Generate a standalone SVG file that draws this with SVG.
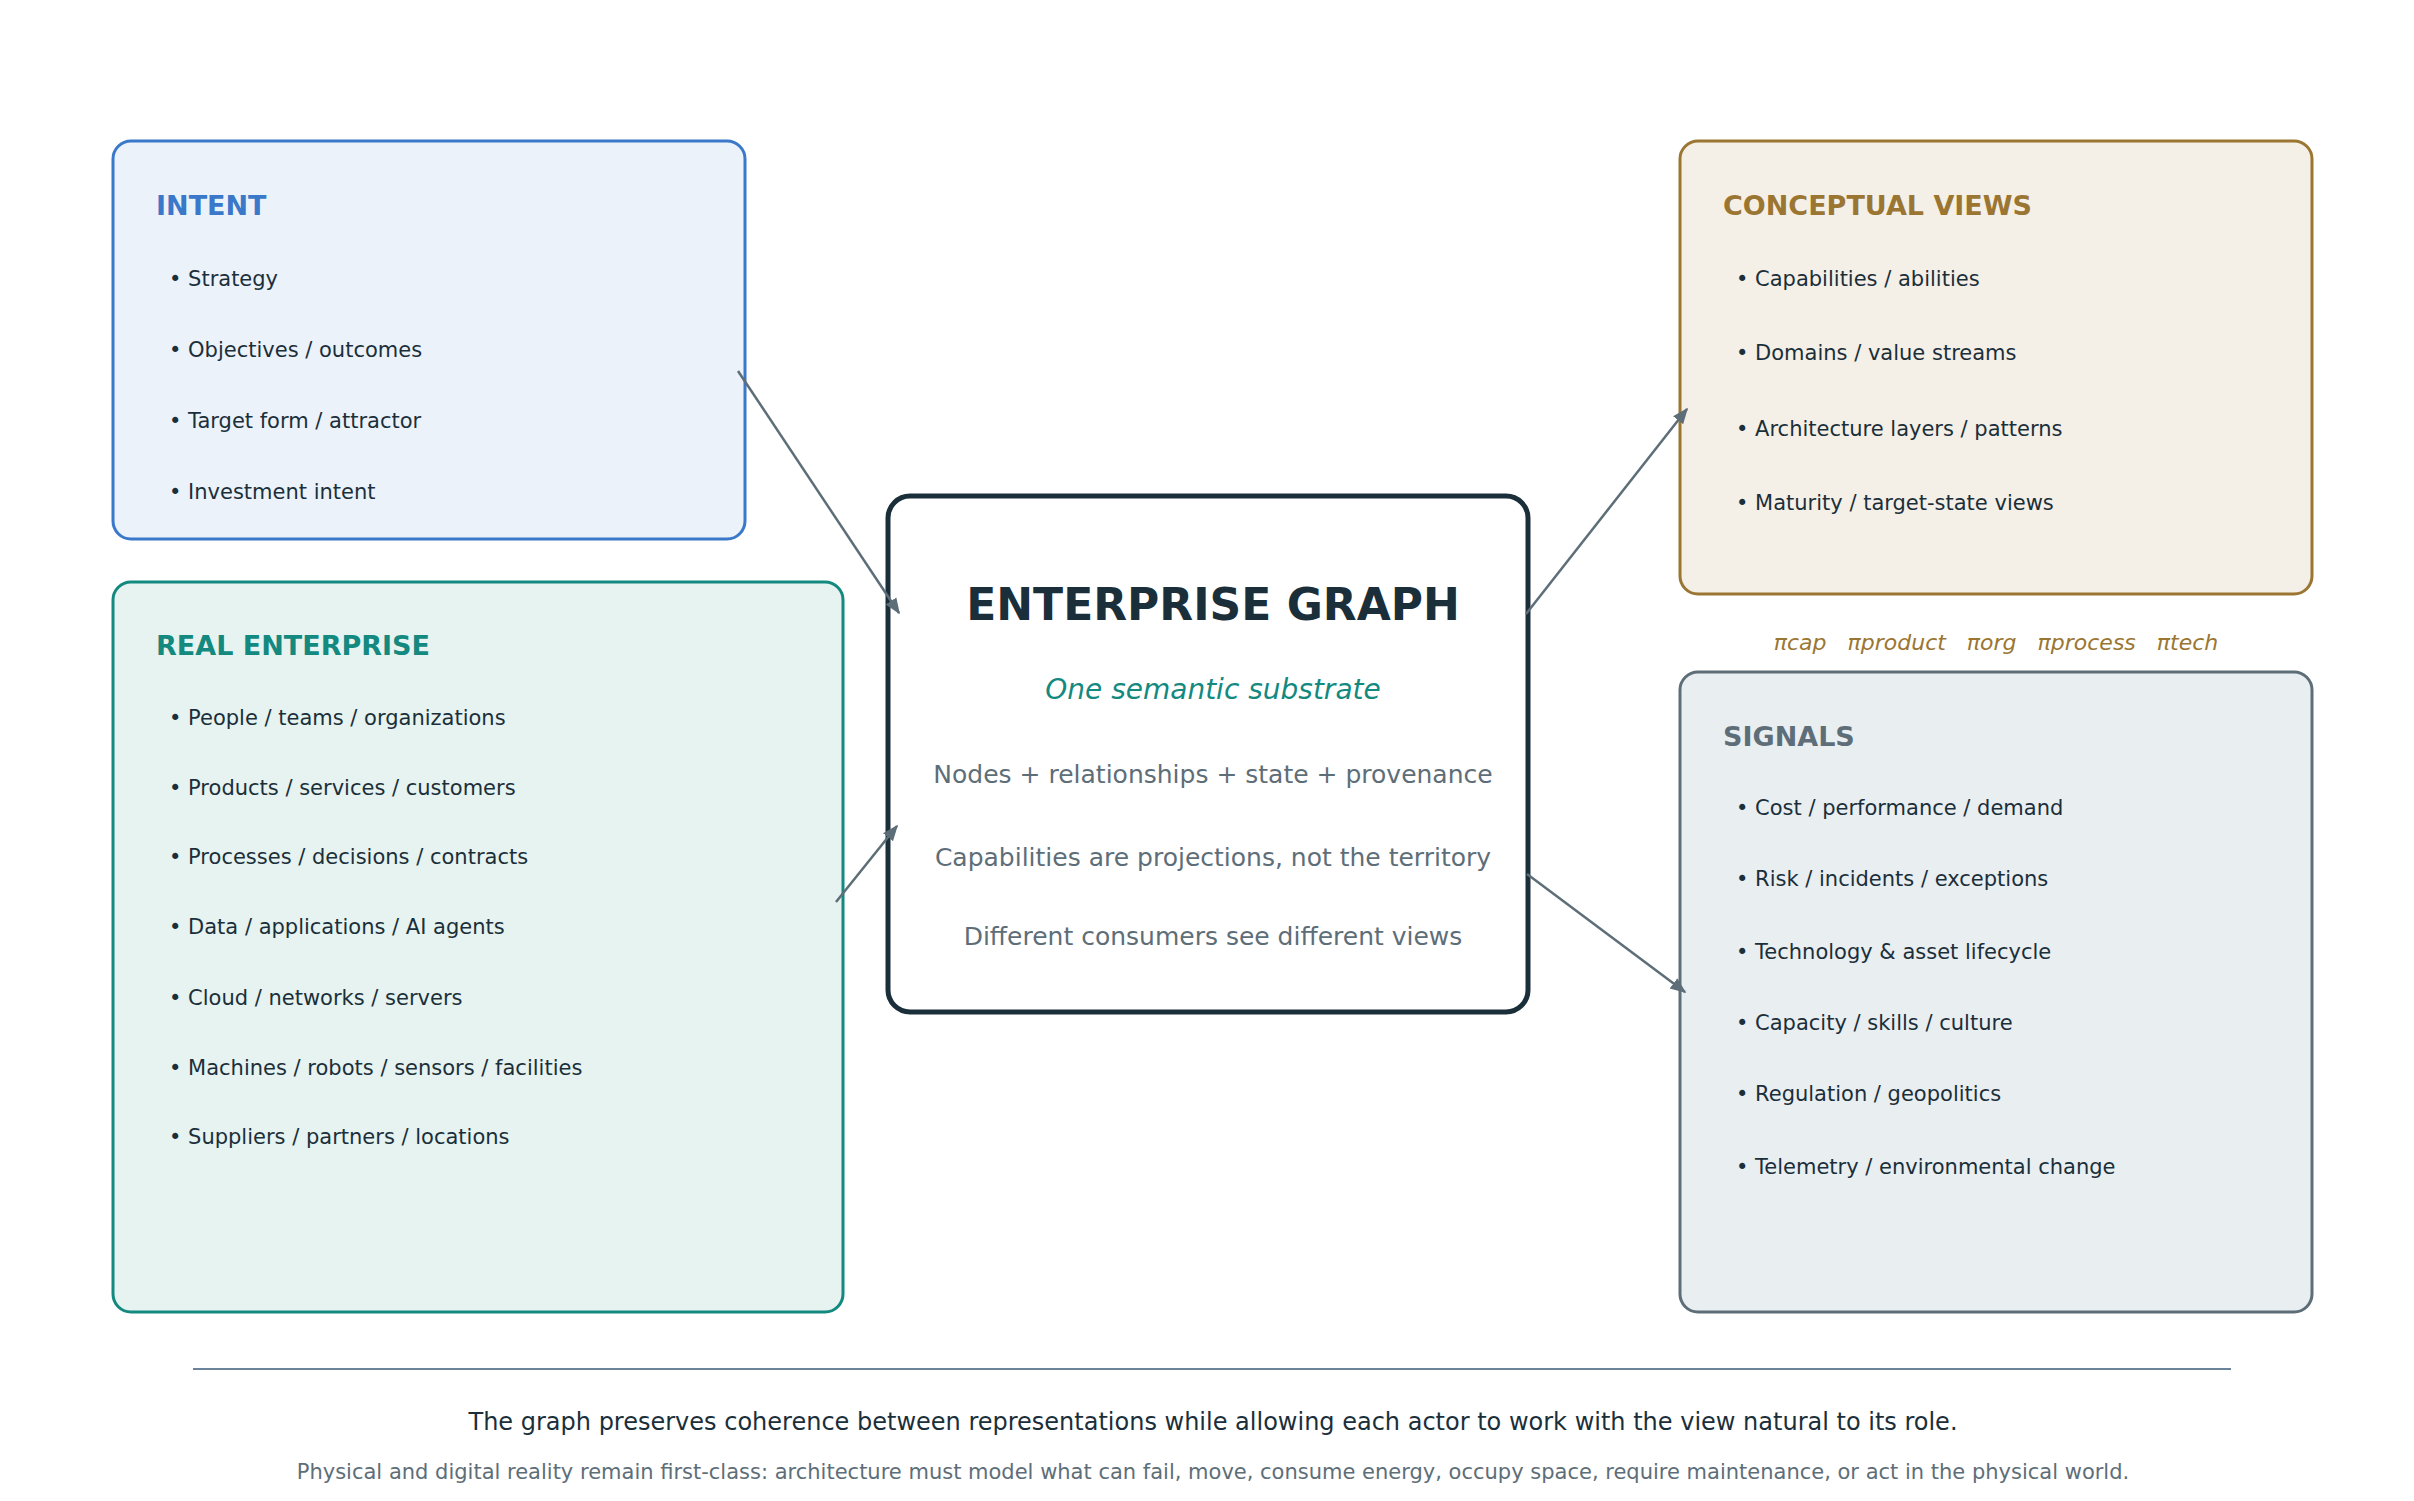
<svg xmlns="http://www.w3.org/2000/svg" width="2414" height="1501" viewBox="0 0 2414 1501">
<defs>
<marker id="ah" viewBox="0 0 10 10" refX="9" refY="5" markerWidth="7" markerHeight="7" orient="auto" markerUnits="userSpaceOnUse" ><path d="M0,0 L10,5 L0,10 z" fill="#5e6e78"/></marker>
<marker id="a" viewBox="0 0 10 10" refX="9" refY="5" markerWidth="16" markerHeight="16" orient="auto" markerUnits="userSpaceOnUse"><path d="M0,1 L10,5 L0,9 z" fill="#5e6e78"/></marker>
</defs>
<style>
text{font-family:"DejaVu Sans","Noto Sans",sans-serif}
.h{font-size:27px;font-weight:bold}
.b{font-size:21px;fill:#1b2f3a}
.c{font-size:25px;fill:#5e6e78;text-anchor:middle}
.conn line{stroke:#5e6e78;stroke-width:2.5;marker-end:url(#a)}
</style>
<rect width="2414" height="1501" fill="#fff"/>
<g id="intent">
<rect x="113" y="141" width="632" height="398" rx="18" fill="#ebf2fa" stroke="#3a78c9" stroke-width="3"/>
<text x="156" y="215" class="h" fill="#3a78c9">INTENT</text>
<text x="169" y="286" class="b">• Strategy</text>
<text x="169" y="357" class="b">• Objectives / outcomes</text>
<text x="169" y="428" class="b">• Target form / attractor</text>
<text x="169" y="499" class="b">• Investment intent</text>
</g>
<g id="real">
<rect x="113" y="582" width="730" height="730" rx="18" fill="#e6f3f0" stroke="#13897f" stroke-width="3"/>
<text x="156" y="655" class="h" fill="#13897f">REAL ENTERPRISE</text>
<text x="169" y="725" class="b">• People / teams / organizations</text>
<text x="169" y="795" class="b">• Products / services / customers</text>
<text x="169" y="864" class="b">• Processes / decisions / contracts</text>
<text x="169" y="934" class="b">• Data / applications / AI agents</text>
<text x="169" y="1005" class="b">• Cloud / networks / servers</text>
<text x="169" y="1075" class="b">• Machines / robots / sensors / facilities</text>
<text x="169" y="1144" class="b">• Suppliers / partners / locations</text>
</g>
<g id="graph">
<rect x="888" y="496" width="640" height="516" rx="22" fill="#fff" stroke="#1b2f3a" stroke-width="5"/>
<text x="1213" y="620" text-anchor="middle" font-size="44" font-weight="bold" fill="#1b2f3a">ENTERPRISE GRAPH</text>
<text x="1213" y="699" text-anchor="middle" font-size="28" font-style="italic" fill="#13897f">One semantic substrate</text>
<text x="1213" y="783" class="c">Nodes + relationships + state + provenance</text>
<text x="1213" y="866" class="c">Capabilities are projections, not the territory</text>
<text x="1213" y="945" class="c">Different consumers see different views</text>
</g>
<g id="conceptual">
<rect x="1680" y="141" width="632" height="453" rx="18" fill="#f4efe7" stroke="#9a7632" stroke-width="3"/>
<text x="1723" y="215" class="h" fill="#9a7632">CONCEPTUAL VIEWS</text>
<text x="1736" y="286" class="b">• Capabilities / abilities</text>
<text x="1736" y="360" class="b">• Domains / value streams</text>
<text x="1736" y="436" class="b">• Architecture layers / patterns</text>
<text x="1736" y="510" class="b">• Maturity / target-state views</text>
</g>
<g id="projections">
<text x="1996" y="650" text-anchor="middle" font-size="22" font-style="italic" fill="#9a7632" xml:space="preserve">πcap   πproduct   πorg   πprocess   πtech</text>
</g>
<g id="signals">
<rect x="1680" y="672" width="632" height="640" rx="18" fill="#e9eef1" stroke="#5e6e78" stroke-width="3"/>
<text x="1723" y="746" class="h" fill="#5e6e78">SIGNALS</text>
<text x="1736" y="815" class="b">• Cost / performance / demand</text>
<text x="1736" y="886" class="b">• Risk / incidents / exceptions</text>
<text x="1736" y="959" class="b">• Technology &amp; asset lifecycle</text>
<text x="1736" y="1030" class="b">• Capacity / skills / culture</text>
<text x="1736" y="1101" class="b">• Regulation / geopolitics</text>
<text x="1736" y="1174" class="b">• Telemetry / environmental change</text>
</g>
<g id="connectors" class="conn">
<line x1="738" y1="371" x2="899" y2="613"/>
<line x1="836" y1="902" x2="897" y2="826"/>
<line x1="1526" y1="614" x2="1687" y2="409"/>
<line x1="1527" y1="874" x2="1685" y2="992"/>
</g>
<g id="footer">
<line x1="193" y1="1369" x2="2231" y2="1369" stroke="#3a5a7a" stroke-width="1.5"/>
<text x="1213" y="1430" text-anchor="middle" font-size="24" fill="#1b2f3a">The graph preserves coherence between representations while allowing each actor to work with the view natural to its role.</text>
<text x="1213" y="1479" text-anchor="middle" font-size="21" fill="#5e6e78">Physical and digital reality remain first-class: architecture must model what can fail, move, consume energy, occupy space, require maintenance, or act in the physical world.</text>
</g>
</svg>
